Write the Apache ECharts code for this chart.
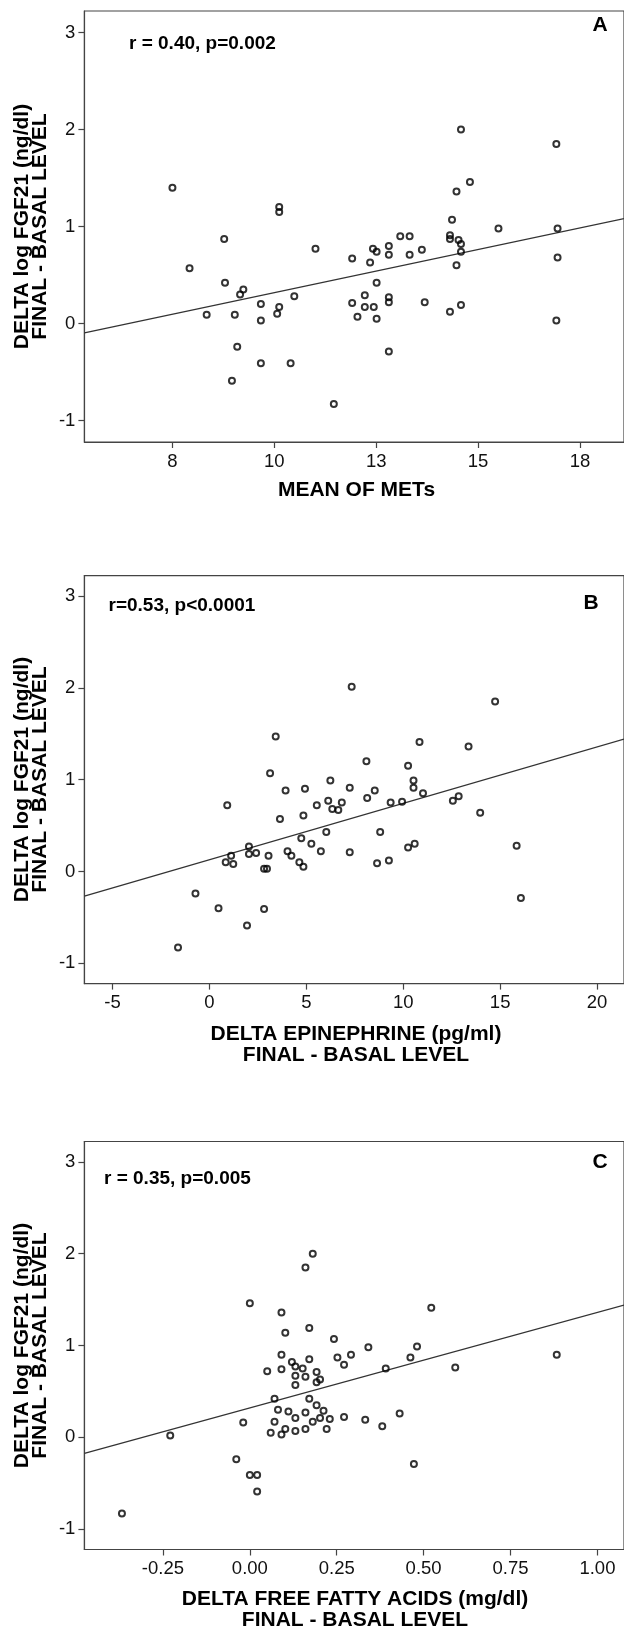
<!DOCTYPE html>
<html>
<head>
<meta charset="utf-8">
<script src="https://cdn.jsdelivr.net/npm/echarts@6/dist/echarts.min.js"></script>
<style>
  html, body { margin: 0; padding: 0; background: #fff; }
  #chart { width: 624px; height: 1631px; }
</style>
</head>
<body>
<div id="chart"></div>
<script>
// panel A: MEAN OF METs vs delta log FGF21
const metsX = [7.5, 7.92, 8.34, 8.77, 8.79, 9.24, 9.16, 9.03, 9.09, 8.96,
  9.67, 9.67, 9.67, 10.12, 10.12, 10.07, 10.12, 10.49, 10.40, 11.01,
  11.46, 11.91, 11.91, 12.04, 12.22, 12.22, 12.35, 12.42, 12.51, 12.44,
  12.51, 12.51, 12.81, 12.81, 12.81, 12.81, 12.81, 13.09, 13.32, 13.32,
  13.62, 13.69, 14.31, 14.31, 14.36, 14.31, 14.47, 14.52, 14.58, 14.58,
  14.47, 14.58, 14.58, 14.80, 15.50, 16.92, 16.95, 16.95, 16.92]
const metsY = [1.40, 0.57, 0.09, 0.87, 0.42, 0.35, 0.30, 0.09, -0.24, -0.59,
  0.20, 0.03, -0.41, 1.20, 1.15, 0.10, 0.17, 0.28, -0.41, 0.77,
  -0.83, 0.67, 0.21, 0.07, 0.29, 0.17, 0.63, 0.77, 0.74, 0.17,
  0.42, 0.05, 0.80, 0.71, 0.27, 0.22, -0.29, 0.90, 0.90, 0.71,
  0.76, 0.22, 0.91, 0.87, 1.07, 0.12, 1.36, 0.86, 0.82, 0.74,
  0.60, 0.19, 2.00, 1.46, 0.98, 1.85, 0.98, 0.68, 0.03]

// panel B: delta epinephrine
const epiX = [-1.62, -0.72, 0.47, 0.92, 0.84, 1.12, 1.23, 1.94, 2.04, 2.04,
  2.41, 2.82, 2.97, 2.82, 3.05, 3.13, 3.42, 3.64, 3.93, 4.03,
  4.23, 4.64, 4.74, 4.85, 4.85, 4.93, 5.26, 5.54, 5.75, 6.03,
  6.13, 6.24, 6.34, 6.65, 6.83, 7.24, 7.24, 7.34, 8.10, 8.14,
  8.53, 8.81, 8.65, 9.26, 9.35, 9.94, 10.25, 10.53, 10.53, 10.25,
  10.59, 10.84, 11.02, 12.56, 12.86, 13.37, 13.97, 14.74, 15.85, 16.07]
const epiY = [-0.83, -0.24, -0.40, 0.72, 0.10, 0.17, 0.08, -0.59, 0.27, 0.19,
  0.20, 0.03, 0.03, -0.41, 0.17, 1.07, 1.47, 0.57, 0.88, 0.22,
  0.17, 0.10, 0.36, 0.05, 0.61, 0.90, 0.30, 0.72, 0.22, 0.43,
  0.77, 0.99, 0.68, 0.67, 0.75, 0.91, 0.21, 2.01, 1.20, 0.80,
  0.88, 0.43, 0.09, 0.12, 0.75, 0.76, 1.15, 0.99, 0.91, 0.26,
  0.30, 1.41, 0.85, 0.77, 0.82, 1.36, 0.64, 1.85, 0.28, -0.29]

// panel C: delta free fatty acids
const ffaX = [-0.368, -0.229, -0.039, -0.019, 0.000, 0.000, 0.021, 0.021, 0.050, 0.060,
  0.071, 0.071, 0.081, 0.091, 0.091, 0.091, 0.091, 0.102, 0.102, 0.111,
  0.121, 0.131, 0.131, 0.131, 0.131, 0.131, 0.152, 0.160, 0.160, 0.160,
  0.160, 0.171, 0.171, 0.171, 0.181, 0.181, 0.192, 0.192, 0.202, 0.192,
  0.202, 0.212, 0.221, 0.230, 0.242, 0.252, 0.271, 0.271, 0.291, 0.332,
  0.341, 0.381, 0.391, 0.431, 0.462, 0.472, 0.481, 0.522, 0.591, 0.883]
const ffaY = [-0.83, 0.02, -0.24, 0.16, 1.46, -0.41, -0.41, -0.59, 0.72, 0.05,
  0.42, 0.17, 0.30, 1.36, 0.90, 0.74, 0.03, 1.14, 0.09, 0.28,
  0.82, 0.77, 0.67, 0.57, 0.21, 0.07, 0.75, 1.85, 0.66, 0.27,
  0.09, 1.19, 0.85, 0.42, 2.00, 0.17, 0.71, 0.60, 0.63, 0.35,
  0.21, 0.29, 0.09, 0.20, 1.07, 0.87, 0.79, 0.22, 0.90, 0.19,
  0.98, 0.12, 0.75, 0.26, 0.87, -0.29, 0.99, 1.41, 0.76, 0.90]

// fit lines: [intercept, slope]
const fitA = [-0.571, 0.0889]
const fitB = [0.127, 0.0614]
const fitC = [0.320, 1.040]

// tick values / labels
const yTicks = [-1, 0, 1, 2, 3]
const xTicksA = [7.5, 10, 12.5, 15, 17.5]
const xLabelsA = ['8', '10', '13', '15', '18']
const xTicksB = [-5, 0, 5, 10, 15, 20]
const xLabelsB = ['-5', '0', '5', '10', '15', '20']
const xTicksC = [-0.25, 0, 0.25, 0.5, 0.75, 1]
const xLabelsC = ['-0.25', '0.00', '0.25', '0.50', '0.75', '1.00']

const FONT = "'Liberation Sans', Arial, sans-serif"
const AXIS_COLOR = '#444'

const panels = [
  { xs: metsX, ys: metsY, fit: fitA, ticks: xTicksA, labels: xLabelsA, min: 5.34, max: 18.58, top: 11, height: 431 },
  { xs: epiX, ys: epiY, fit: fitB, ticks: xTicksB, labels: xLabelsB, min: -6.45, max: 21.39, top: 575.6, height: 408 },
  { xs: ffaX, ys: ffaY, fit: fitC, ticks: xTicksC, labels: xLabelsC, min: -0.476, max: 1.0765, top: 1141.5, height: 408 }
]

const grid = []
const xAxis = []
const yAxis = []
const series = []

panels.forEach((p, i) => {
  grid.push({
    left: 84.4,
    top: p.top,
    width: 541.6,
    height: p.height,
    show: true,
    borderColor: AXIS_COLOR,
    borderWidth: 1.2,
    backgroundColor: '#fff'
  })
  xAxis.push({
    gridIndex: i,
    type: 'value',
    min: p.min,
    max: p.max,
    splitLine: { show: false },
    axisLine: { show: true, onZero: false, lineStyle: { color: AXIS_COLOR, width: 1.2 } },
    axisTick: { show: true, length: 6, customValues: p.ticks, lineStyle: { color: AXIS_COLOR, width: 1.2 } },
    axisLabel: {
      customValues: p.ticks,
      margin: 10,
      color: '#111',
      fontFamily: FONT,
      fontSize: 18.5,
      formatter: (v) => {
        const k = p.ticks.findIndex(t => Math.abs(t - v) < 1e-6)
        return k >= 0 ? p.labels[k] : ''
      }
    }
  })
  yAxis.push({
    gridIndex: i,
    type: 'value',
    min: -1.222,
    max: 3.222,
    splitLine: { show: false },
    axisLine: { show: true, onZero: false, lineStyle: { color: AXIS_COLOR, width: 1.2 } },
    axisTick: { show: true, length: 6, customValues: yTicks, lineStyle: { color: AXIS_COLOR, width: 1.2 } },
    axisLabel: { customValues: yTicks, margin: 9, color: '#111', fontFamily: FONT, fontSize: 18.5 }
  })
  // 回归直线
  series.push({
    type: 'line',
    xAxisIndex: i,
    yAxisIndex: i,
    data: [[p.min, p.fit[0] + p.fit[1] * p.min], [p.max, p.fit[0] + p.fit[1] * p.max]],
    showSymbol: false,
    symbol: 'none',
    lineStyle: { color: '#333', width: 1.2 },
    silent: true,
    z: 2
  })
  // 散点（空心圆）
  series.push({
    type: 'scatter',
    xAxisIndex: i,
    yAxisIndex: i,
    data: p.xs.map((x, k) => [x, p.ys[k]]),
    symbol: 'circle',
    symbolSize: 6,
    itemStyle: { color: 'rgba(255,255,255,0)', borderColor: '#000', borderWidth: 2 },
    z: 3
  })
})

const bold = (size) => `bold ${size}px ${FONT}`
const text = (str, x, y, opt) => ({
  type: 'text',
  x: x,
  y: y,
  rotation: (opt && opt.rotation) || 0,
  z: 10,
  style: {
    text: str,
    font: bold((opt && opt.size) || 21),
    fill: '#000',
    textAlign: (opt && opt.align) || 'center',
    textVerticalAlign: 'middle',
    lineHeight: (opt && opt.lineHeight) || 21
  }
})

const yTitle = 'DELTA log FGF21 (ng/dl)\nFINAL - BASAL LEVEL'
const graphic = [
  // panel A
  text('r = 0.40, p=0.002', 129, 43.5, { align: 'left', size: 19 }),
  text('A', 600, 25),
  text('MEAN OF METs', 356.5, 490),
  text(yTitle, 31, 226.5, { rotation: Math.PI / 2, lineHeight: 18 }),
  // panel B
  text('r=0.53, p<0.0001', 108.5, 606, { align: 'left', size: 19 }),
  text('B', 591, 603),
  text('DELTA EPINEPHRINE (pg/ml)\nFINAL - BASAL LEVEL', 356, 1044.5),
  text(yTitle, 31, 779.5, { rotation: Math.PI / 2, lineHeight: 18 }),
  // panel C
  text('r = 0.35, p=0.005', 104, 1179, { align: 'left', size: 19 }),
  text('C', 600, 1162),
  text('DELTA FREE FATTY ACIDS (mg/dl)\nFINAL - BASAL LEVEL', 355, 1610),
  text(yTitle, 31, 1345.5, { rotation: Math.PI / 2, lineHeight: 18 })
]

const chart = echarts.init(document.getElementById('chart'), null, { renderer: 'canvas' })
chart.setOption({
  animation: false,
  backgroundColor: '#fff',
  grid: grid,
  xAxis: xAxis,
  yAxis: yAxis,
  series: series,
  graphic: graphic
})
</script>
</body>
</html>
